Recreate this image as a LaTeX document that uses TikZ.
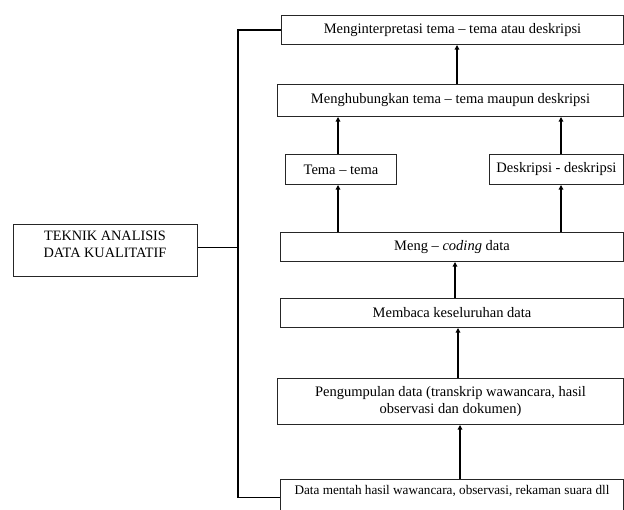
\documentclass[tikz,border=0pt]{standalone}
\usepackage{fontspec}
\setmainfont{Liberation Serif}
\usetikzlibrary{arrows.meta}
\begin{document}
\begin{tikzpicture}[x=1pt,y=1pt,
  box/.style={draw=black!85, line width=1pt, inner sep=0pt, align=center, anchor=north west, font=\fontsize{14.5}{17}\selectfont},
  txt/.style={inner sep=0pt, align=center, font=\fontsize{14.3}{17}\selectfont},
  arr/.style={line width=1.4pt, -{Triangle[length=4.5pt,width=4.5pt]}},
  conn/.style={line width=1.4pt}]
\useasboundingbox (0,0) rectangle (624,-509);
\coordinate (bx) at (238,0);
\coordinate (xa) at (457,0);
\coordinate (xb) at (455,0);
\coordinate (xc) at (458,0);
\coordinate (xd) at (460,0);
\coordinate (xt) at (338,0);
\coordinate (xe) at (561,0);
\node[box, minimum width=342, minimum height=29] (interp) at (281,-15) {Menginterpretasi tema -- tema atau deskripsi};
\node[box, minimum width=346, minimum height=32] (hub) at (277,-84) {Menghubungkan tema -- tema maupun deskripsi};
\node[box, minimum width=111, minimum height=30] (tema) at (285,-154) {Tema -- tema};
\node[box, minimum width=134, minimum height=30] (desk) at (489,-154) {Deskripsi - deskripsi};
\node[box, minimum width=343, minimum height=29] (coding) at (280,-232) {Meng -- \textit{coding} data};
\node[box, minimum width=343, minimum height=29] (membaca) at (280,-298) {Membaca keseluruhan data};
\node[box, minimum width=346, minimum height=46] (peng) at (277,-378) {Pengumpulan data (transkrip wawancara, hasil\\observasi dan dokumen)};
\node[box, minimum width=343, minimum height=36] (datab) at (280,-479) {};
\node[txt, font=\fontsize{13.2}{16}\selectfont] (databt) at (452,-491) {Data mentah hasil wawancara, observasi, rekaman suara dll};
\node[box, minimum width=184, minimum height=52] (left) at (13,-224) {};
\node[txt] (leftt) at (105,-244.5) {TEKNIK ANALISIS\\DATA KUALITATIF};
% arrows
\draw[arr] (hub.north -| xa) -- (interp.south -| xa);
\draw[arr] (tema.north -| xt) -- (hub.south -| xt);
\draw[arr] (desk.north -| xe) -- (hub.south -| xe);
\draw[arr] (coding.north -| xt) -- (tema.south -| xt);
\draw[arr] (coding.north -| xe) -- (desk.south -| xe);
\draw[arr] (membaca.north -| xb) -- (coding.south -| xb);
\draw[arr] (peng.north -| xc) -- (membaca.south -| xc);
\draw[arr] (datab.north -| xd) -- (peng.south -| xd);
% bracket
\draw[conn] (interp.west) -- (interp.west -| bx) -- (datab.west -| bx) -- (datab.west);
\draw[conn] ([yshift=3pt]left.east) -- ([yshift=3pt]left.east -| bx);
\end{tikzpicture}
\end{document}
